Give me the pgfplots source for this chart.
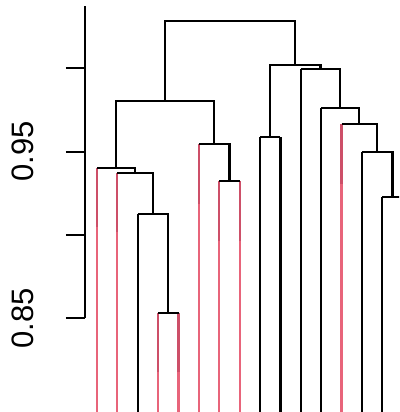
\documentclass[border=0pt]{standalone}
\usepackage{pgfplots}
\pgfplotsset{compat=1.18}
\usepackage{fontspec}
\setmainfont{Liberation Sans}
\definecolor{rdark}{HTML}{CD4F68}
\definecolor{rlight}{HTML}{E8647A}
\begin{document}
\begin{tikzpicture}
\begin{axis}[
  at={(0pt,0pt)}, anchor=south west,
  scale only axis, width=314pt, height=406pt,
  xmin=0.41, xmax=15.82, ymin=0.7938, ymax=1.0374,
  hide x axis,
  axis line style={draw=none},
  ytick pos=left, tick align=outside, major tick length=19pt,
  ytick={0.85,0.9,0.95,1.0},
  yticklabels={0.85,,0.95,},
  every tick/.style={black, line width=1.8pt},
  major tick style={black, line width=1.8pt},
  yticklabel style={rotate=90, anchor=south, inner ysep=32pt, font=\fontsize{31}{31}\selectfont},
  unbounded coords=jump,
]
% leaf lines, lower (lighter) part
\addplot[draw=rlight, mark=none, line width=2.2pt] coordinates {
 (1,0.79) (1,0.9048) (1,nan)
 (2,0.79) (2,0.9018) (2,nan)
 (4,0.79) (4,0.8176) (4,nan)
 (5,0.79) (5,0.8176) (5,nan)
 (6,0.79) (6,0.9188) (6,nan)
 (7,0.79) (7,0.8966) (7,nan)
 (8,0.79) (8,0.8966) (8,nan)
 (13,0.79) (13,0.9308)
};
% leaf lines, upper (darker) part
\addplot[draw=rdark, mark=none, line width=2.2pt] coordinates {
 (1,0.9048) (1,0.9404) (1,nan)
 (2,0.9018) (2,0.9374) (2,nan)
 (4,0.8176) (4,0.8532) (4,nan)
 (5,0.8176) (5,0.8532) (5,nan)
 (6,0.9188) (6,0.9544) (6,nan)
 (7,0.8966) (7,0.9322) (7,nan)
 (8,0.8966) (8,0.9322) (8,nan)
 (13,0.9308) (13,0.9664)
};
% black leaf lines
\addplot[draw=black, mark=none, line width=2.2pt] coordinates {
 (3,0.79) (3,0.9126) (3,nan)
 (9,0.79) (9,0.9586) (9,nan)
 (10,0.79) (10,0.9586) (10,nan)
 (11,0.79) (11,0.9994) (11,nan)
 (12,0.79) (12,0.976) (12,nan)
 (14,0.79) (14,0.95) (14,nan)
 (15,0.79) (15,0.9226) (15,nan)
 (16,0.79) (16,0.9226)
};
% internal structure
\addplot[draw=black, mark=none, line width=2.2pt, line join=miter] coordinates {
 (4.34375,0.9806) (4.34375,1.0282) (10.734375,1.0282) (10.734375,1.002) (4,nan)
 (1.9375,0.9404) (1.9375,0.9806) (6.75,0.9806) (6.75,0.9544) (4,nan)
 (1,0.9404) (2.875,0.9404) (2.875,0.9374) (4,nan)
 (2,0.9374) (3.75,0.9374) (3.75,0.9126) (4,nan)
 (3,0.9126) (4.5,0.9126) (4.5,0.8532) (4,nan)
 (4,0.8532) (5,0.8532) (4,nan)
 (6,0.9544) (7.5,0.9544) (7.5,0.9322) (4,nan)
 (7,0.9322) (8,0.9322) (4,nan)
 (9.5,0.9586) (9.5,1.002) (11.96875,1.002) (11.96875,0.9994) (4,nan)
 (9,0.9586) (10,0.9586) (4,nan)
 (11,0.9994) (12.9375,0.9994) (12.9375,0.976) (4,nan)
 (12,0.976) (13.875,0.976) (13.875,0.9664) (4,nan)
 (13,0.9664) (14.75,0.9664) (14.75,0.95) (4,nan)
 (14,0.95) (15.5,0.95) (15.5,0.9226) (4,nan)
 (15,0.9226) (16,0.9226)
};
\coordinate (yb) at (axis cs:0.41,0.85);
\coordinate (yt) at (axis cs:0.41,1.0374);
\end{axis}
\draw[line width=1.6pt] (yb) -- (yt);
\pgfresetboundingbox
\path (-85pt,0pt) rectangle (314pt,412pt);
\end{tikzpicture}
\end{document}
